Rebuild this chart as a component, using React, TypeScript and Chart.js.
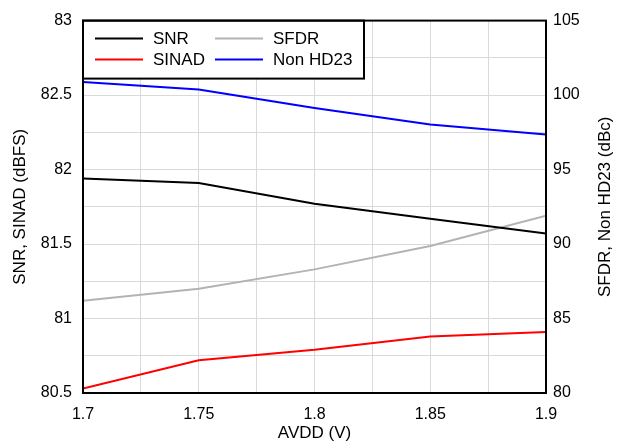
import React, { useEffect, useRef } from "react";
import { Chart, registerables } from "chart.js";

Chart.register(...registerables);

const avdd = [1.7, 1.75, 1.8, 1.85, 1.9];
const snr = [81.94, 81.91, 81.77, 81.67, 81.57];
const sinad = [80.53, 80.72, 80.79, 80.88, 80.91];
const sfdr = [86.2, 87.0, 88.3, 89.87, 91.9];
const nonHd23 = [100.87, 100.38, 99.13, 98.02, 97.35];
const rightTitle = "SFDR, Non HD23 (dBc)";

const FONT = "'Liberation Sans', Arial, Helvetica, sans-serif";

const toPts = (ys: number[]) => avdd.map((x, i) => ({ x, y: ys[i] }));

const frameAndLegend = {
  id: "frameAndLegend",
  afterDatasetsDraw(chart: any) {
    const { ctx, chartArea } = chart;
    const { left, top, right, bottom } = chartArea;
    ctx.save();
    // legend box
    const bx = left, by = top, bw = 281, bh = 58;
    ctx.fillStyle = "#ffffff";
    ctx.fillRect(bx, by, bw, bh);
    ctx.strokeStyle = "#000";
    ctx.lineWidth = 2;
    ctx.strokeRect(bx, by, bw, bh);
    const items = chart.data.datasets.map((d: any) => ({ label: d.label, color: d.borderColor }));
    const order = [0, 2, 1, 3];
    const cols = [left + 12, left + 132];
    const rows = [top + 18, top + 39];
    ctx.font = `17px ${FONT}`;
    ctx.textBaseline = "middle";
    ctx.textAlign = "left";
    order.forEach((di, k) => {
      const it = items[di];
      const cx = cols[k % 2];
      const cy = rows[Math.floor(k / 2)];
      ctx.strokeStyle = it.color;
      ctx.lineWidth = 2;
      ctx.beginPath();
      ctx.moveTo(cx, cy);
      ctx.lineTo(cx + 48, cy);
      ctx.stroke();
      ctx.fillStyle = "#000";
      ctx.fillText(it.label, cx + 58, cy + 1);
    });
    // plot frame
    ctx.strokeStyle = "#000";
    ctx.lineWidth = 2;
    ctx.strokeRect(left, top, right - left, bottom - top);
    // right axis title, reading bottom-to-top
    ctx.translate(right + 59, (top + bottom) / 2);
    ctx.rotate(-Math.PI / 2);
    ctx.font = `17px ${FONT}`;
    ctx.textAlign = "center";
    ctx.textBaseline = "middle";
    ctx.fillStyle = "#000";
    ctx.fillText(rightTitle, 0, 0);
    ctx.restore();
  },
};

export default function App() {
  const ref = useRef<HTMLCanvasElement>(null);
  useEffect(() => {
    if (!ref.current) return;
    const chart = new Chart(ref.current, {
      type: "line",
      data: {
        datasets: [
          { label: "SNR", data: toPts(snr), borderColor: "#000000", yAxisID: "yL" },
          { label: "SINAD", data: toPts(sinad), borderColor: "#ff0000", yAxisID: "yL" },
          { label: "SFDR", data: toPts(sfdr), borderColor: "#b3b3b3", yAxisID: "yR" },
          { label: "Non HD23", data: toPts(nonHd23), borderColor: "#0000ff", yAxisID: "yR" },
        ],
      },
      options: {
        responsive: false,
        animation: false,
        devicePixelRatio: 1,
        layout: { padding: { top: 18, left: 0, right: 0, bottom: 0 } },
        elements: {
          point: { radius: 0 },
          line: { borderWidth: 2, tension: 0 },
        },
        plugins: { legend: { display: false }, tooltip: { enabled: false } },
        scales: {
          x: {
            type: "linear",
            min: 1.7,
            max: 1.9,
            afterFit: (s: any) => { s.height = 51; },
            border: { display: false },
            grid: { color: "#d9d9d9", lineWidth: 1, drawTicks: false },
            ticks: {
              stepSize: 0.025,
              padding: 12,
              color: "#000",
              font: { family: FONT, size: 16 },
              maxRotation: 0,
              autoSkip: false,
              callback: (v: any) => {
                const n = Number(v);
                return Math.abs(n * 20 - Math.round(n * 20)) < 1e-6 ? String(Math.round(n * 100) / 100) : "";
              },
            },
            title: {
              display: true,
              text: "AVDD (V)",
              color: "#000",
              font: { family: FONT, size: 17 },
              padding: { top: 0, bottom: 0 },
            },
          },
          yL: {
            type: "linear",
            position: "left",
            min: 80.5,
            max: 83,
            afterFit: (s: any) => { s.width = 83; },
            border: { display: false },
            grid: { color: "#d9d9d9", lineWidth: 1, drawTicks: false },
            ticks: {
              stepSize: 0.25,
              padding: 11,
              color: "#000",
              font: { family: FONT, size: 16 },
              autoSkip: false,
              callback: (v: any) => {
                const n = Number(v);
                return Math.abs(n * 2 - Math.round(n * 2)) < 1e-6 ? String(Math.round(n * 10) / 10) : "";
              },
            },
            title: {
              display: true,
              text: "SNR, SINAD (dBFS)",
              color: "#000",
              font: { family: FONT, size: 17 },
              padding: { top: 10, bottom: 10 },
            },
          },
          yR: {
            type: "linear",
            position: "right",
            min: 80,
            max: 105,
            afterFit: (s: any) => { s.width = 78; },
            border: { display: false },
            grid: { display: false, drawTicks: false },
            ticks: {
              stepSize: 5,
              padding: 7,
              color: "#000",
              font: { family: FONT, size: 16 },
            },
            title: { display: false },
          },
        },
      },
      plugins: [frameAndLegend],
    });
    return () => chart.destroy();
  }, []);
  return (
    <div style={{ position: "fixed", left: 0, top: 0, width: 624, height: 444, background: "#fff" }}>
      <canvas ref={ref} width={624} height={444} />
    </div>
  );
}
